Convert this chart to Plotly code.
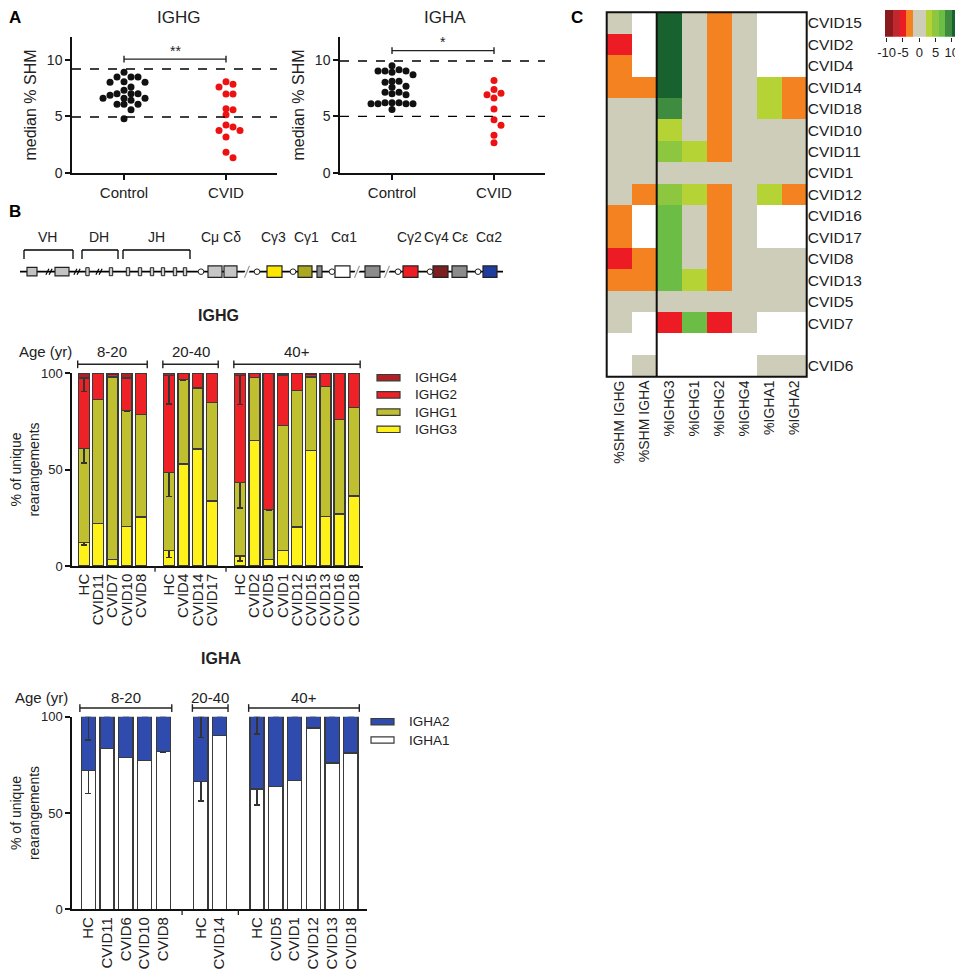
import plotly.graph_objects as go

# reference frame is the 963x972 picture; the page body adds an 8px margin,
# so the figure itself is drawn 8px smaller and every position is shifted back
W, H = 963, 972
OFF = 8
FW, FH = W - OFF, H - OFF
FONT = "Liberation Sans, Arial, sans-serif"
INK = "#222222"

# ---- panel A: median % SHM per donor ----
IGHG_CONTROL = [8.88, 8.47, 8.47, 8.47, 8.06, 8.0, 8.0, 7.59, 7.3, 7.0, 6.85, 7.0, 7.0,
                6.59, 6.41, 6.59, 6.59, 6.06, 6.06, 6.06, 5.59, 4.79]
IGHG_CVID = [8.06, 7.59, 7.82, 6.97, 6.97, 5.59, 5.68, 5.15, 4.06, 4.24, 3.76, 3.76, 3.18, 1.82, 1.35]
IGHA_CONTROL = [9.47, 9.11, 8.99, 8.9, 8.66, 8.99, 8.99, 8.1, 8.01, 8.1, 7.66, 7.57, 7.12, 7.0,
                6.91, 7.12, 6.2, 6.11, 6.11, 6.11, 6.11, 6.2, 6.2, 5.6]
IGHA_CVID = [8.16, 7.36, 6.91, 6.62, 7.03, 5.64, 4.69, 4.21, 3.32, 2.67]
IGHG_LIMITS = [9.18, 4.94]
IGHA_LIMITS = [9.88, 5.0]
GROUPS_A = ["Control", "CVID"]

# ---- panel B: subclass usage ----
AGE_GROUPS = ["8-20", "20-40", "40+"]
IGHG_DONORS = [["HC", "CVID11", "CVID7", "CVID10", "CVID8"],
               ["HC", "CVID4", "CVID14", "CVID17"],
               ["HC", "CVID2", "CVID5", "CVID1", "CVID12", "CVID15", "CVID13", "CVID16", "CVID18"]]
IGHG3 = [12.3, 22.1, 3.3, 20.4, 25.4, 8.0, 52.8, 60.7, 33.7, 5.2, 65.1, 3.5, 8.0, 20.2, 60.0, 25.8, 27.0, 36.3]
IGHG1 = [48.6, 64.1, 94.6, 60.0, 53.1, 40.4, 43.7, 31.5, 51.1, 38.1, 32.7, 25.6, 64.7, 70.8, 37.9, 67.3, 48.8, 45.9]
IGHG2 = [36.5, 13.8, 1.5, 17.0, 21.5, 50.4, 3.5, 7.8, 15.2, 55.3, 2.2, 70.9, 26.3, 9.0, 1.5, 6.9, 24.2, 17.8]
IGHG4 = [2.6, 0, 0.6, 2.6, 0, 1.2, 0, 0, 0, 1.4, 0, 0, 1.0, 0, 0.6, 0, 0, 0]
# error bars of the HC means (up, down), one pair per age group
IGHG3_ERR = [(1.5, 1.5), (1.5, 3.5), (1.5, 2.5)]
IGHG1_ERR = [(0, 7.4), (0, 12.4), (0, 13.3)]
IGHG2_ERR = [(0, 7.0), (0, 14.9), (0, 15.0)]

IGHA_DONORS = [["HC", "CVID11", "CVID6", "CVID10", "CVID8"],
               ["HC", "CVID14"],
               ["HC", "CVID5", "CVID1", "CVID12", "CVID13", "CVID18"]]
IGHA1 = [72.1, 83.4, 78.7, 77.3, 81.8, 66.4, 90.3, 62.5, 63.7, 66.8, 94.1, 76.0, 81.1]
IGHA2 = [27.9, 16.6, 21.3, 22.7, 18.2, 33.6, 9.7, 37.5, 36.3, 33.2, 5.9, 24.0, 18.9]
IGHA1_ERR = [(0, 12.1), (0, 10.2), (0, 8.3)]
IGHA2_ERR = [(0, 12.1), (0, 10.9), (0, 9.0)]

# ---- panel C: heatmap ----
HEAT_ROWS = ["CVID15", "CVID2", "CVID4", "CVID14", "CVID18", "CVID10", "CVID11", "CVID1", "CVID12",
             "CVID16", "CVID17", "CVID8", "CVID13", "CVID5", "CVID7", "", "CVID6"]
HEAT_COLS = ["%SHM IGHG", "%SHM IGHA", "%IGHG3", "%IGHG1", "%IGHG2", "%IGHG4", "%IGHA1", "%IGHA2"]
N = None
SHM_IGHG_C = [0, -5, -3, -3, 0, 0, 0, 0, 0, -3, -3, -5, -3, 0, 0, N, N]
SHM_IGHA_C = [N, N, N, -3, 0, 0, 0, 0, -3, N, N, -3, -3, 0, N, N, 0]
PCT_IGHG3 = [11, 11, 11, 11, 9, 3, 5, 0, 5, 7, 7, 7, 7, 0, -5, N, N]
PCT_IGHG1 = [0, 0, 0, 0, 0, 0, 3, 0, 3, 0, 0, 0, 3, 0, 7, N, N]
PCT_IGHG2 = [-3, -3, -3, -3, -3, -3, -3, 0, -3, -3, -3, -3, -3, 0, -5, N, N]
PCT_IGHG4 = [0, 0, 0, 0, 0, 0, 0, 0, 0, 0, 0, 0, 0, 0, 0, N, N]
PCT_IGHA1 = [N, N, N, 3, 3, 0, 0, 0, 3, N, N, 0, 0, 0, N, N, 0]
PCT_IGHA2 = [N, N, N, -3, -3, 0, 0, 0, -3, N, N, 0, 0, 0, N, N, 0]
SCALE_BOUNDS = [-10.5, -8, -6, -4, -2, 2, 4, 6, 8, 10, 12.5]
SCALE_COLORS = ["#8b1a1f", "#c1272d", "#ed1c24", "#f58220", "#cdcdb9",
                "#b5d334", "#8dc63f", "#6cbd45", "#3f8b40", "#17622f"]
SCALE_TICKS = [-10, -5, 0, 5, 10]

IGHG_COLORS = {"IGHG3": "#fff21a", "IGHG1": "#bfbf30", "IGHG2": "#ee2226", "IGHG4": "#b21f24"}
IGHA_COLORS = {"IGHA1": "#ffffff", "IGHA2": "#2e4bad"}


def fx(px):
    return (px - OFF) / FW


def fy(py):
    return 1 - (py - OFF) / FH


def text(s, x, y, size, xref="paper", yref="paper", xanchor="center", color=INK):
    return dict(text=s, xref=xref, yref=yref, x=x, y=y, xanchor=xanchor, yanchor="middle",
                showarrow=False, font=dict(size=size, color=color))


def slots(groups):
    pos, s = [], 0
    for g in groups:
        for _ in g:
            pos.append(s)
            s += 1
        s += 1
    return pos


def swarm_x(values, center, d=7.0):
    # rough beeswarm in pixel space, square footprint so rows form like in Prism
    sx, sy = 102.0, 136.0 / 12.0
    placed = []
    out = [center] * len(values)
    for i in sorted(range(len(values)), key=lambda j: -values[j]):
        y = values[i] * sy
        k = 0
        found = None
        while found is None:
            cands = [0.0] if k == 0 else [k * d / 2, -k * d / 2]
            for c in cands:
                if all(abs(c - px) >= d or abs(y - py) >= d * 0.85 for px, py in placed):
                    found = c
                    break
            k += 1
        placed.append((found, y))
        out[i] = center + found / sx
    return out


def hc_errors(groups, errs):
    up, down = [], []
    for gi, g in enumerate(groups):
        for name in g:
            e = errs[gi] if name == "HC" else (0, 0)
            up.append(e[0])
            down.append(e[1])
    return up, down


fig = go.Figure()
shapes, notes = [], []

# ---------------- panel A ----------------
for k, (ctrl, cvid, lim, xa, ya) in enumerate([
        (IGHG_CONTROL, IGHG_CVID, IGHG_LIMITS, "x", "y"),
        (IGHA_CONTROL, IGHA_CVID, IGHA_LIMITS, "x2", "y2")]):
    for gi, (vals, col) in enumerate([(ctrl, "#111111"), (cvid, "#ee1111")]):
        fig.add_trace(go.Scatter(
            x=swarm_x(vals, gi), y=vals, mode="markers", xaxis=xa, yaxis=ya,
            marker=dict(size=7, color=col), showlegend=False, hoverinfo="y"))
    for v in lim:
        shapes.append(dict(type="line", xref=xa + " domain", yref=ya, x0=0, x1=1, y0=v, y1=v,
                           line=dict(color="black", width=1.4, dash="dash")))
    yb = 10.05 if k == 0 else 10.8
    shapes.append(dict(type="line", xref=xa, yref=ya, x0=0, x1=1, y0=yb, y1=yb,
                       line=dict(color=INK, width=1.4)))
    for xe in (0, 1):
        shapes.append(dict(type="line", xref=xa, yref=ya, x0=xe, x1=xe, y0=yb - 0.3, y1=yb + 0.3,
                           line=dict(color=INK, width=1.4)))
    notes.append(text("**" if k == 0 else "*", 0.5, yb + 0.75, 14, xref=xa, yref=ya))

notes.append(text("IGHG", fx(178), fy(18), 17))
notes.append(text("IGHA", fx(445), fy(18), 17))
for lab, px, py in [("A", 15, 18), ("B", 15, 211), ("C", 577, 18)]:
    notes.append(text("<b>%s</b>" % lab, fx(px), fy(py), 17, color="black"))

# ---------------- gene map (schematic) ----------------
LINE_Y = 271.7


def gl(x0, y0, x1, y1, color="black", width=1.6):
    shapes.append(dict(type="line", xref="paper", yref="paper", x0=fx(x0), x1=fx(x1),
                       y0=fy(y0), y1=fy(y1), line=dict(color=color, width=width)))


def gr(x0, x1, h, color, lw=1.2):
    shapes.append(dict(type="rect", xref="paper", yref="paper", x0=fx(x0), x1=fx(x1),
                       y0=fy(LINE_Y + h / 2), y1=fy(LINE_Y - h / 2), fillcolor=color,
                       line=dict(color="#222", width=lw)))


gl(20, LINE_Y, 503, LINE_Y, width=1.8)
for x in (49, 77, 99):
    for d in (-1.6, 1.6):
        gl(x + d - 1.5, LINE_Y + 3, x + d + 1.5, LINE_Y - 3, width=1.2)
for x in (247, 357, 387):
    shapes.append(dict(type="line", xref="paper", yref="paper", x0=fx(x - 3), x1=fx(x + 3),
                       y0=fy(LINE_Y + 7), y1=fy(LINE_Y - 7), line=dict(color="white", width=4)))
    gl(x - 2.5, LINE_Y + 6, x + 2.5, LINE_Y - 6, color="#9a9a9a", width=1.2)
for x0, x1 in [(27, 37), (55, 69)]:
    gr(x0, x1, 8.5, "#c3c3c3")
for xc in (87.5, 111, 128, 140, 152, 163, 175, 185):
    gr(xc - 1.7, xc + 1.7, 8, "#d0d0d0", lw=1)
for x0, x1, c in [(208, 222, "#c6c6c6"), (224, 237, "#c6c6c6"), (267, 282, "#ffe600"),
                  (298, 312, "#a9a820"), (317, 322, "#8c8c8c"), (335, 350, "#ffffff"),
                  (365, 380, "#8c8c8c"), (403, 418, "#ee1c24"), (433, 448, "#7d1f22"),
                  (452, 467, "#8c8c8c"), (483, 497, "#1f3d9c")]:
    gr(x0, x1, 11.5, c)
for xc in (201, 257, 293, 332, 398, 430, 478):
    shapes.append(dict(type="circle", xref="paper", yref="paper", x0=fx(xc - 2.8), x1=fx(xc + 2.8),
                       y0=fy(LINE_Y + 2.8), y1=fy(LINE_Y - 2.8), fillcolor="white",
                       line=dict(color="#222", width=1)))
for x0, x1 in [(24, 73), (82, 118), (123, 190)]:
    gl(x0, 250, x1, 250, width=1.3)
    gl(x0, 250, x0, 259, width=1.3)
    gl(x1, 250, x1, 259, width=1.3)
for lab, xc in [("VH", 47.5), ("DH", 99), ("JH", 156.7), ("Cμ Cδ", 220.5), ("Cγ3", 273.5),
                ("Cγ1", 306.5), ("Cα1", 344), ("Cγ2", 409.5), ("Cγ4", 436.7), ("Cε", 459.5),
                ("Cα2", 489)]:
    notes.append(text(lab, fx(xc), fy(237), 14))


# ---------------- panel B bars ----------------
def bar_panel(groups, series, errs, colors, xa, ya, width, age_y, age_x, legend_x, legend_y, legend_dy):
    pos = slots(groups)
    for name, vals in series:
        eu, ed = hc_errors(groups, errs[name]) if name in errs else (None, None)
        fig.add_trace(go.Bar(
            x=pos, y=vals, width=width, name=name, xaxis=xa, yaxis=ya, showlegend=False,
            marker=dict(color=colors[name], line=dict(color="#3a3a3a", width=1.3)),
            error_y=dict(type="data", symmetric=False, array=eu, arrayminus=ed, color="#333",
                         thickness=1.5, width=3, visible=eu is not None)))
    start = 0
    for lab, g in zip(AGE_GROUPS, groups):
        a, b = pos[start] - 0.45, pos[start + len(g) - 1] + 0.45
        shapes.append(dict(type="line", xref=xa, yref=ya + " domain", x0=a, x1=b, y0=1.045, y1=1.045,
                           line=dict(color=INK, width=1.4)))
        for xe in (a, b):
            shapes.append(dict(type="line", xref=xa, yref=ya + " domain", x0=xe, x1=xe, y0=1.025,
                               y1=1.065, line=dict(color=INK, width=1.4)))
        notes.append(text(lab, (a + b) / 2, age_y, 15, xref=xa, yref=ya + " domain"))
        if start + len(g) < len(pos):
            gap = pos[start + len(g) - 1] + 1
            shapes.append(dict(type="line", xref=xa, yref=ya + " domain", x0=gap, x1=gap, y0=0,
                               y1=-0.03, line=dict(color=INK, width=1.3)))
        start += len(g)
    notes.append(text("Age (yr)", fx(age_x), age_y, 15, yref=ya + " domain"))
    for i, (name, _) in enumerate(reversed(series)):
        yc = legend_y + i * legend_dy
        shapes.append(dict(type="rect", xref="paper", yref="paper", x0=fx(legend_x), x1=fx(legend_x + 23),
                           y0=fy(yc + 3.2), y1=fy(yc - 3.2), fillcolor=colors[name],
                           line=dict(color="#3a3a3a", width=1.2)))
        notes.append(text(name, fx(legend_x + 36), fy(yc), 13.5, xanchor="left"))
    return pos, [n for g in groups for n in g]


pos_g, ticks_g = bar_panel(
    IGHG_DONORS, [("IGHG3", IGHG3), ("IGHG1", IGHG1), ("IGHG2", IGHG2), ("IGHG4", IGHG4)],
    {"IGHG3": IGHG3_ERR, "IGHG1": IGHG1_ERR, "IGHG2": IGHG2_ERR}, IGHG_COLORS,
    "x3", "y3", 0.77, 1.11, 45, 377, 377.7, 17.2)
pos_a, ticks_a = bar_panel(
    IGHA_DONORS, [("IGHA1", IGHA1), ("IGHA2", IGHA2)],
    {"IGHA1": IGHA1_ERR, "IGHA2": IGHA2_ERR}, IGHA_COLORS,
    "x4", "y4", 0.75, 1.10, 41, 371, 721.7, 18.3)
notes.append(text("<b>IGHG</b>", fx(218), fy(315), 16))
notes.append(text("<b>IGHA</b>", fx(221), fy(658), 16))

# ---------------- panel C heatmap ----------------
cols = [SHM_IGHG_C, SHM_IGHA_C, PCT_IGHG3, PCT_IGHG1, PCT_IGHG2, PCT_IGHG4, PCT_IGHA1, PCT_IGHA2]
z = [[c[r] for c in cols] for r in range(len(HEAT_ROWS))]
lo, hi = SCALE_BOUNDS[0], SCALE_BOUNDS[-1]
cscale = []
for i, c in enumerate(SCALE_COLORS):
    cscale.append([(SCALE_BOUNDS[i] - lo) / (hi - lo), c])
    cscale.append([(SCALE_BOUNDS[i + 1] - lo) / (hi - lo), c])
fig.add_trace(go.Heatmap(
    z=z, x=list(range(len(HEAT_COLS))), y=list(range(len(HEAT_ROWS))), xaxis="x5", yaxis="y5",
    zmin=lo, zmax=hi, colorscale=cscale, hoverongaps=False, showscale=False))
# colour key drawn as a one-row heatmap on its own axis
mids = [(SCALE_BOUNDS[i] + SCALE_BOUNDS[i + 1]) / 2 for i in range(len(SCALE_COLORS))]
fig.add_trace(go.Heatmap(
    z=[mids], x=SCALE_BOUNDS, y=[0, 1], xaxis="x6", yaxis="y6", zmin=lo, zmax=hi,
    colorscale=cscale, showscale=False, hoverinfo="skip"))
shapes.append(dict(type="rect", xref="x5 domain", yref="y5 domain", x0=0, x1=1, y0=0, y1=1,
                   line=dict(color="#111", width=2)))
shapes.append(dict(type="line", xref="x5", yref="y5 domain", x0=1.5, x1=1.5, y0=0, y1=1,
                   line=dict(color="#111", width=2)))

# ---------------- axes ----------------
axis_common = dict(showgrid=False, zeroline=False, showline=True, linecolor="#111", linewidth=1.5,
                   tickfont=dict(size=14, color=INK), ticks="outside", ticklen=5, tickwidth=1.5,
                   tickcolor="#111", automargin=False)
a_x = dict(axis_common, range=[-0.51, 1.5], tickvals=[0, 1], ticktext=GROUPS_A,
           tickfont=dict(size=15, color=INK))
a_y = dict(axis_common, range=[0, 12], tickvals=[0, 5, 10],
           title=dict(text="median % SHM", font=dict(size=16, color=INK), standoff=6))
b_y = dict(axis_common, range=[0, 100], tickvals=[0, 50, 100], tickfont=dict(size=13, color=INK),
           title=dict(text="% of unique<br>rearangements", font=dict(size=14, color=INK), standoff=8))
b_x = dict(axis_common, tickangle=-90, ticks="", tickfont=dict(size=15, color=INK))

fig.update_layout(
    width=FW, height=FH, margin=dict(l=0, r=0, t=0, b=0, pad=0, autoexpand=False),
    paper_bgcolor="white", plot_bgcolor="white",
    font=dict(family=FONT, color=INK),
    barmode="stack", showlegend=False,
    xaxis=dict(a_x, domain=[fx(72), fx(277)], anchor="y"),
    yaxis=dict(a_y, domain=[fy(173), fy(37)], anchor="x"),
    xaxis2=dict(a_x, domain=[fx(340), fx(545)], anchor="y2"),
    yaxis2=dict(a_y, domain=[fy(173), fy(37)], anchor="x2"),
    xaxis3=dict(b_x, domain=[fx(72), fx(363)], anchor="y3", range=[-0.85, 19.65],
                tickvals=pos_g, ticktext=ticks_g),
    yaxis3=dict(b_y, domain=[fy(566), fy(373)], anchor="x3"),
    xaxis4=dict(b_x, domain=[fx(72), fx(367)], anchor="y4", range=[-0.87, 14.86],
                tickvals=pos_a, ticktext=ticks_a),
    yaxis4=dict(b_y, domain=[fy(909.3), fy(716.7)], anchor="x4"),
    xaxis5=dict(domain=[fx(606.7), fx(806.7)], anchor="y5", range=[-0.5, 7.5], showgrid=False,
                zeroline=False, tickvals=list(range(len(HEAT_COLS))), ticktext=HEAT_COLS,
                tickangle=-90, ticks="", tickfont=dict(size=14, color=INK), automargin=False),
    yaxis5=dict(domain=[fy(376.7), fy(12.3)], anchor="x5", range=[len(HEAT_ROWS) - 0.5, -0.5],
                showgrid=False, zeroline=False, side="right", tickvals=list(range(len(HEAT_ROWS))),
                ticktext=HEAT_ROWS, ticks="", tickfont=dict(size=15.5, color=INK), automargin=False),
    xaxis6=dict(domain=[fx(885), fx(960)], anchor="y6", range=[lo, hi], showgrid=False,
                zeroline=False, showline=False, tickvals=SCALE_TICKS,
                ticktext=[str(t) for t in SCALE_TICKS], ticks="outside", ticklen=4,
                tickcolor=INK, tickangle=0, tickfont=dict(size=13, color=INK), automargin=False),
    yaxis6=dict(domain=[fy(36.7), fy(10)], anchor="x6", range=[0, 1], visible=False),
    shapes=shapes, annotations=notes,
)

fig.write_html("out.html")
